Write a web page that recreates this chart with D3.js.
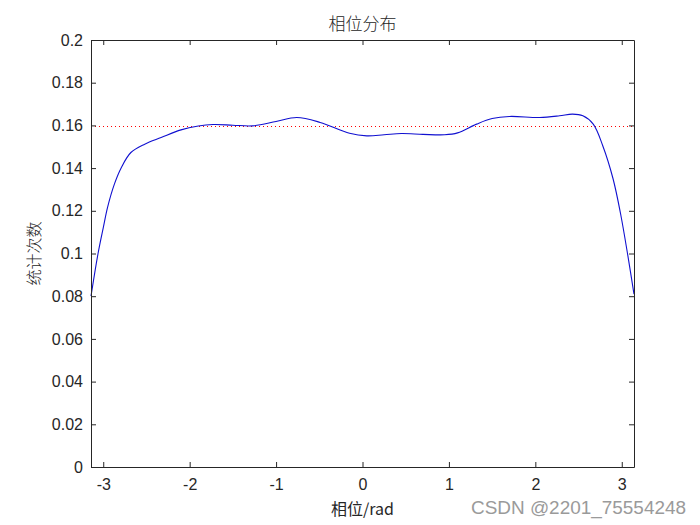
<!DOCTYPE html>
<html>
<head>
<meta charset="utf-8">
<script src="https://cdn.jsdelivr.net/npm/d3@7"></script>
<style>
  body { margin: 0; background: #fff; }
  svg { display: block; }
  .tick text { font-family: "Liberation Sans", Arial, sans-serif; font-size: 16px; fill: #262626; }
</style>
</head>
<body>
<div class="chart"></div>
<script>
// phase (rad) and counts
var phase = [-Math.PI, -3.06, -3.0, -2.95, -2.87, -2.79, -2.68, -2.52, -2.33, -2.10, -1.90, -1.73,
             -1.5, -1.27, -1.0, -0.76, -0.49, -0.15, 0.05, 0.25, 0.45, 0.7, 0.95, 1.1, 1.32, 1.5,
             1.7, 2.05, 2.28, 2.43, 2.55, 2.67, 2.78, 2.90, 2.99, 3.07, Math.PI];
var counts = [0.080, 0.100, 0.112, 0.1216, 0.1326, 0.1403, 0.1473, 0.1512, 0.1543, 0.1579, 0.1597, 0.1604,
              0.1601, 0.1598, 0.1618, 0.1637, 0.1614, 0.1563, 0.1551, 0.1556, 0.1562, 0.1558, 0.1556, 0.1565, 0.1606, 0.1632,
              0.1642, 0.1637, 0.1645, 0.1653, 0.1645, 0.1606, 0.1505, 0.1349, 0.1178, 0.0991, 0.081];
var refLevel = 1 / (2 * Math.PI);
var xTicks = [-3, -2, -1, 0, 1, 2, 3];
var yTicks = [0, 0.02, 0.04, 0.06, 0.08, 0.1, 0.12, 0.14, 0.16, 0.18, 0.2];

var W = 700, H = 525;
var pLeft = 91, pRight = 634, pTop = 40, pBottom = 467;

var svg = d3.select(".chart").append("svg")
	.attr("width", W)
	.attr("height", H);

var x = d3.scaleLinear().domain([-Math.PI, Math.PI]).range([pLeft, pRight]);
var y = d3.scaleLinear().domain([0, 0.2]).range([pBottom, pTop]);

// reference line (dotted red)
svg.append("line")
	.attr("x1", x(-Math.PI)).attr("x2", x(Math.PI))
	.attr("y1", Math.round(y(refLevel)) - 0.5).attr("y2", Math.round(y(refLevel)) - 0.5)
	.style("stroke", "#ff0000")
	.style("stroke-width", 1)
	.style("stroke-dasharray", "1,3");

// curve
var pts = phase.map(function(p, i) { return [p, counts[i]]; });
var line = d3.line()
	.x(function(d) { return x(d[0]); })
	.y(function(d) { return y(d[1]); })
	.curve(d3.curveCatmullRom.alpha(0.5));
svg.append("path")
	.datum(pts)
	.attr("d", line)
	.style("fill", "none")
	.style("stroke", "#1010d0")
	.style("stroke-width", 1.1);

// axes, MATLAB-like box with inward ticks
function styleAxis(g) {
	g.selectAll(".domain").style("stroke", "#262626");
	g.selectAll(".tick line").style("stroke", "#262626");
}
svg.append("g")
	.attr("transform", "translate(0," + pBottom + ")")
	.call(d3.axisBottom(x).tickValues(xTicks).tickSizeInner(-5).tickSizeOuter(0).tickPadding(12).tickFormat(function(d) { return String(d); }))
	.call(styleAxis);
svg.append("g")
	.attr("transform", "translate(0," + pTop + ")")
	.call(d3.axisTop(x).tickValues(xTicks).tickSizeInner(-5).tickSizeOuter(0).tickFormat(""))
	.call(styleAxis);
svg.append("g")
	.attr("transform", "translate(" + pLeft + ",0)")
	.call(d3.axisLeft(y).tickValues(yTicks).tickSizeInner(-5).tickSizeOuter(0).tickPadding(8).tickFormat(function(d) { return String(+d.toFixed(2)); }))
	.call(styleAxis);
svg.append("g")
	.attr("transform", "translate(" + pRight + ",0)")
	.call(d3.axisRight(y).tickValues(yTicks).tickSizeInner(-5).tickSizeOuter(0).tickFormat(""))
	.call(styleAxis);

// texts
svg.append("text")
	.attr("x", (pLeft + pRight) / 2).attr("y", 30)
	.attr("text-anchor", "middle")
	.style("font-family", "Noto Sans CJK SC")
	.style("font-size", "17px")
	.style("font-weight", 300)
	.style("fill", "#262626")
	.text("相位分布");

svg.append("text")
	.attr("x", (pLeft + pRight) / 2).attr("y", 515)
	.attr("text-anchor", "middle")
	.style("font-family", "Noto Sans CJK SC, Liberation Sans")
	.style("font-size", "16px")
	.style("fill", "#262626")
	.text("相位/rad");

svg.append("text")
	.attr("transform", "translate(40," + (pTop + pBottom) / 2 + ") rotate(-90)")
	.attr("text-anchor", "middle")
	.style("font-family", "Noto Sans CJK SC")
	.style("font-size", "16px")
	.style("font-weight", 300)
	.style("fill", "#262626")
	.text("统计次数");

svg.append("text")
	.attr("x", 471).attr("y", 514)
	.attr("textLength", 215)
	.attr("lengthAdjust", "spacingAndGlyphs")
	.style("font-family", "Liberation Sans, Arial, sans-serif")
	.style("font-size", "18px")
	.style("fill", "#9a9a9a")
	.text("CSDN @2201_75554248");
</script>
</body>
</html>
